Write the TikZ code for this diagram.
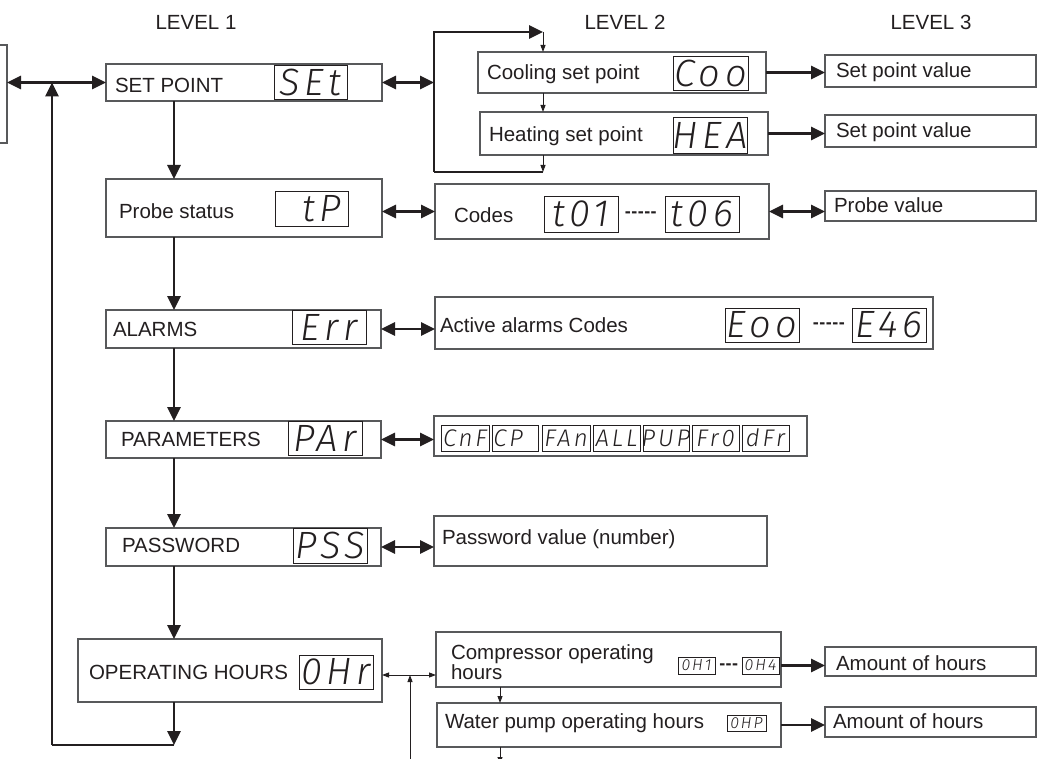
\documentclass[tikz,border=0pt]{standalone}
\usepackage{fontspec}
\setmainfont{Liberation Sans}
\IfFontExistsTF{Fira Sans Light Italic}{\newfontfamily\segfont{Fira Sans Light Italic}[LetterSpace=12]}{%
  \newfontfamily\segfont{Liberation Sans}[FakeSlant=0.18,LetterSpace=12]}
\usetikzlibrary{arrows.meta,calc}
\definecolor{ink}{HTML}{231F20}
\definecolor{frame}{HTML}{58595B}
\newcommand\mkbox[5]{\node[box,minimum width=#4pt,minimum height=#5pt] (#1) at (#2,#3) {};}
\newcommand\mkdisp[6]{\node[disp,#6,minimum width=#4pt,minimum height=#5pt] (#1) at (#2,#3) {};}
\newcommand\dsh[1]{\foreach \k in {1,...,#1}{-\kern0.5pt}}
\begin{document}
\begin{tikzpicture}[x=1pt,y=-1pt,
  box/.style={draw=frame,line width=1.3pt,rectangle,inner sep=0pt,outer sep=0pt,anchor=north west},
  disp/.style={draw=ink,line width=0.9pt,rectangle,inner sep=0pt,outer sep=0pt,anchor=north west},
  lbl/.style={anchor=base west,inner sep=0pt,outer sep=0pt,text=ink,font=\fontsize{20.5}{20}\selectfont},
  segtxt/.style={inner sep=0pt,text=ink},
  segbig/.style={segtxt,font=\segfont\fontsize{38}{38}\selectfont},
  segmid/.style={segtxt,font=\segfont\fontsize{24}{24}\selectfont},
  segsml/.style={segtxt,font=\segfont\fontsize{16}{16}\selectfont},
  dashes/.style={inner sep=0pt,text=ink,font=\bfseries\fontsize{18}{18}\selectfont},
  thk/.style={draw=ink,line width=2.8pt,-{Triangle[length=14pt,width=13pt]}},
  thkd/.style={draw=ink,line width=2.8pt,{Triangle[length=14pt,width=13pt]}-{Triangle[length=14pt,width=13pt]}},
  thkl/.style={draw=ink,line width=2.8pt},
  thn/.style={draw=ink,line width=0.9pt,-{Triangle[length=7pt,width=5pt]}},
  thnd/.style={draw=ink,line width=0.9pt,{Triangle[length=7pt,width=5pt]}-{Triangle[length=7pt,width=5pt]}},
  thnl/.style={draw=ink,line width=0.9pt},
]
\useasboundingbox (0,0) rectangle (1038,759);
\fill[white] (0,0) rectangle (1038,759);

% level headings
\node[lbl,anchor=base] (lv1) at (196,30) {LEVEL 1};
\node[lbl,anchor=base] (lv2) at (625,30) {LEVEL 2};
\node[lbl,anchor=base] (lv3) at (931,30) {LEVEL 3};

% ---------- level 1 ----------
\mkbox{lbox}{-23}{45}{30}{98}
\mkbox{sp}{106}{64}{276}{37}
\mkbox{ps}{106}{179}{276}{58}
\mkbox{al}{106}{310}{275}{38}
\mkbox{pa}{106}{421}{275}{37}
\mkbox{pw}{106}{528}{275}{38}
\mkbox{oh}{78}{639}{304}{63}

\node[lbl] (spt) at (115,93) {SET POINT};
\node[lbl] (pst) at (119,219) {Probe status};
\node[lbl] (alt) at (113,336) {ALARMS};
\node[lbl] (pat) at (121,446) {PARAMETERS};
\node[lbl] (pwt) at (122,552) {PASSWORD};
\node[lbl] (oht) at (89,679) {OPERATING HOURS};

\mkdisp{spd}{274}{65}{73}{34}{}
\node[segbig] at (spd) {SEt};
\mkdisp{psd}{275}{191}{73}{35}{}
\node[segbig] at (psd) {\phantom{S}tP};
\mkdisp{ald}{292}{310}{74}{34}{}
\node[segbig] at (ald) {Err};
\mkdisp{pad}{288}{421}{74}{34}{}
\node[segbig] at (pad) {PAr};
\mkdisp{pwd}{293}{528}{74}{35}{}
\node[segbig] at (pwd) {PSS};
\mkdisp{ohd}{299}{655}{74}{34}{}
\node[segbig] at (ohd) {0Hr};

% ---------- level 2 ----------
\mkbox{co}{478}{52}{288}{41}
\mkbox{he}{480}{112}{288}{43}
\mkbox{cd}{435}{184}{334}{55}
\mkbox{aa}{435}{297}{498}{52}
\mkbox{pc}{434}{416}{373}{40}
\mkbox{pv}{434}{516}{333}{50}
\mkbox{cp}{436}{632}{345}{55}
\mkbox{wp}{437}{703}{344}{44}

\node[lbl] (cot) at (487,80) {Cooling set point};
\node[lbl] (het) at (489,142) {Heating set point};
\node[lbl] (cdt) at (454,223) {Codes};
\node[lbl] (aat) at (440,332) {Active alarms Codes};
\node[lbl] (pvt) at (442,544) {Password value (number)};
\node[lbl,anchor=north west,align=left,font=\fontsize{20.5}{19.5}\selectfont] (cpt) at (451,645) {Compressor operating\\hours};
\node[lbl] (wpt) at (445,728) {Water pump operating hours};

\mkdisp{cod}{673}{56}{75}{34}{}
\node[segbig] at (cod) {Coo};
\mkdisp{hed}{673}{117}{74}{36}{}
\node[segbig] at (hed) {HEA};
\mkdisp{t1d}{544}{196}{74}{36}{}
\node[segbig] at (t1d) {t01};
\node[dashes] (cdd) at (641,215) {\dsh{5}};
\mkdisp{t6d}{665}{196}{74}{36}{}
\node[segbig] at (t6d) {t06};
\mkdisp{e1d}{725}{308}{74}{34}{}
\node[segbig] at (e1d) {Eoo};
\node[dashes] (aad) at (829,326) {\dsh{5}};
\mkdisp{e2d}{852}{308}{74}{34}{}
\node[segbig] at (e2d) {E46};

\mkdisp{p1}{441}{425}{48}{26}{}
\node[segmid] at (p1) {CnF};
\mkdisp{p2}{492}{425}{46}{26}{}
\node[segmid] at (p2) {CP\phantom{P}};
\mkdisp{p3}{542}{425}{48}{26}{}
\node[segmid] at (p3) {FAn};
\mkdisp{p4}{593}{425}{47}{26}{}
\node[segmid] at (p4) {ALL};
\mkdisp{p5}{643}{425}{46}{26}{}
\node[segmid] at (p5) {PUP};
\mkdisp{p6}{692}{425}{47}{26}{}
\node[segmid] at (p6) {Fr0};
\mkdisp{p7}{742}{425}{47}{26}{}
\node[segmid] at (p7) {dFr};

\mkdisp{h1d}{678}{657}{37}{17}{}
\node[segsml] at (h1d) {0H1};
\node[dashes] (cpd) at (729,667) {\dsh{3}};
\mkdisp{h4d}{742}{657}{37}{17}{}
\node[segsml] at (h4d) {0H4};
\mkdisp{hpd}{727}{715}{39}{16}{}
\node[segsml] at (hpd) {0HP};

% ---------- level 3 ----------
\mkbox{sv1}{825}{55}{211}{32}
\mkbox{sv2}{825}{115}{211}{32}
\mkbox{pr}{825}{191}{211}{30}
\mkbox{am1}{825}{647}{211}{29}
\mkbox{am2}{825}{707}{211}{30}

\node[lbl] (sv1t) at (836,78) {Set point value};
\node[lbl] (sv2t) at (836,138) {Set point value};
\node[lbl] (prt) at (834,213) {Probe value};
\node[lbl] (am1t) at (836,670) {Amount of hours};
\node[lbl] (am2t) at (833,728) {Amount of hours};

% ---------- connectors ----------
\coordinate (sx) at (174,0);
\coordinate (j) at (52,82.5);
\coordinate (lp) at (174,745);
\coordinate (lc) at (52,745);

\draw[thkd] (lbox.east |- sp.west) -- (sp.west);
\draw[thk] (sx |- sp.south) -- (sx |- ps.north);
\draw[thk] (sx |- ps.south) -- (sx |- al.north);
\draw[thk] (sx |- al.south) -- (sx |- pa.north);
\draw[thk] (sx |- pa.south) -- (sx |- pw.north);
\draw[thk] (sx |- pw.south) -- (sx |- oh.north);
\draw[thk] (sx |- oh.south) -- (lp);
\draw[thkl] (lp) -- (lc);
\draw[thk] (lc) -- (j);

% set point bracket
\coordinate (b1) at (434,32);
\coordinate (b2) at (543,32);
\coordinate (b3) at (543,172);
\coordinate (b4) at (434,172);
\draw[thkd] (sp.east) -- (sp.east -| b1);
\draw[thk] (b4) -- (b1) -- (b2);
\draw[thkl] (b3) -- (b4);
\draw[thn] (b2) -- (co.north -| b2);
\draw[thn] (co.south -| b2) -- (he.north -| b2);
\draw[thn] (he.south -| b2) -- (b3);

\draw[thkd] (ps.east |- cd.west) -- (cd.west);
\draw[thkd] (al.east) -- (al.east -| aa.west);
\draw[thkd] (pa.east) -- (pa.east -| pc.west);
\draw[thkd] (pw.east) -- (pw.east -| pv.west);

% operating hours
\coordinate (oj) at (410,675);
\coordinate (ob) at (410,762);
\coordinate (wb) at (500,764);
\draw[thnd] (oh.east |- oj) -- (cp.west |- oj);
\draw[thn] (ob) -- (oj);
\draw[thn] (cp.south -| wb) -- (wp.north -| wb);
\draw[thn] (wp.south -| wb) -- (wb);

% to level 3
\draw[thk] (co.east) -- (co.east -| sv1.west);
\draw[thk] (he.east) -- (he.east -| sv2.west);
\draw[thkd] (cd.east) -- (cd.east -| pr.west);
\draw[thk] (cp.east |- h1d.east) -- (h1d.east -| am1.west);
\draw[thk] (wp.east) -- (wp.east -| am2.west);
\end{tikzpicture}
\end{document}
